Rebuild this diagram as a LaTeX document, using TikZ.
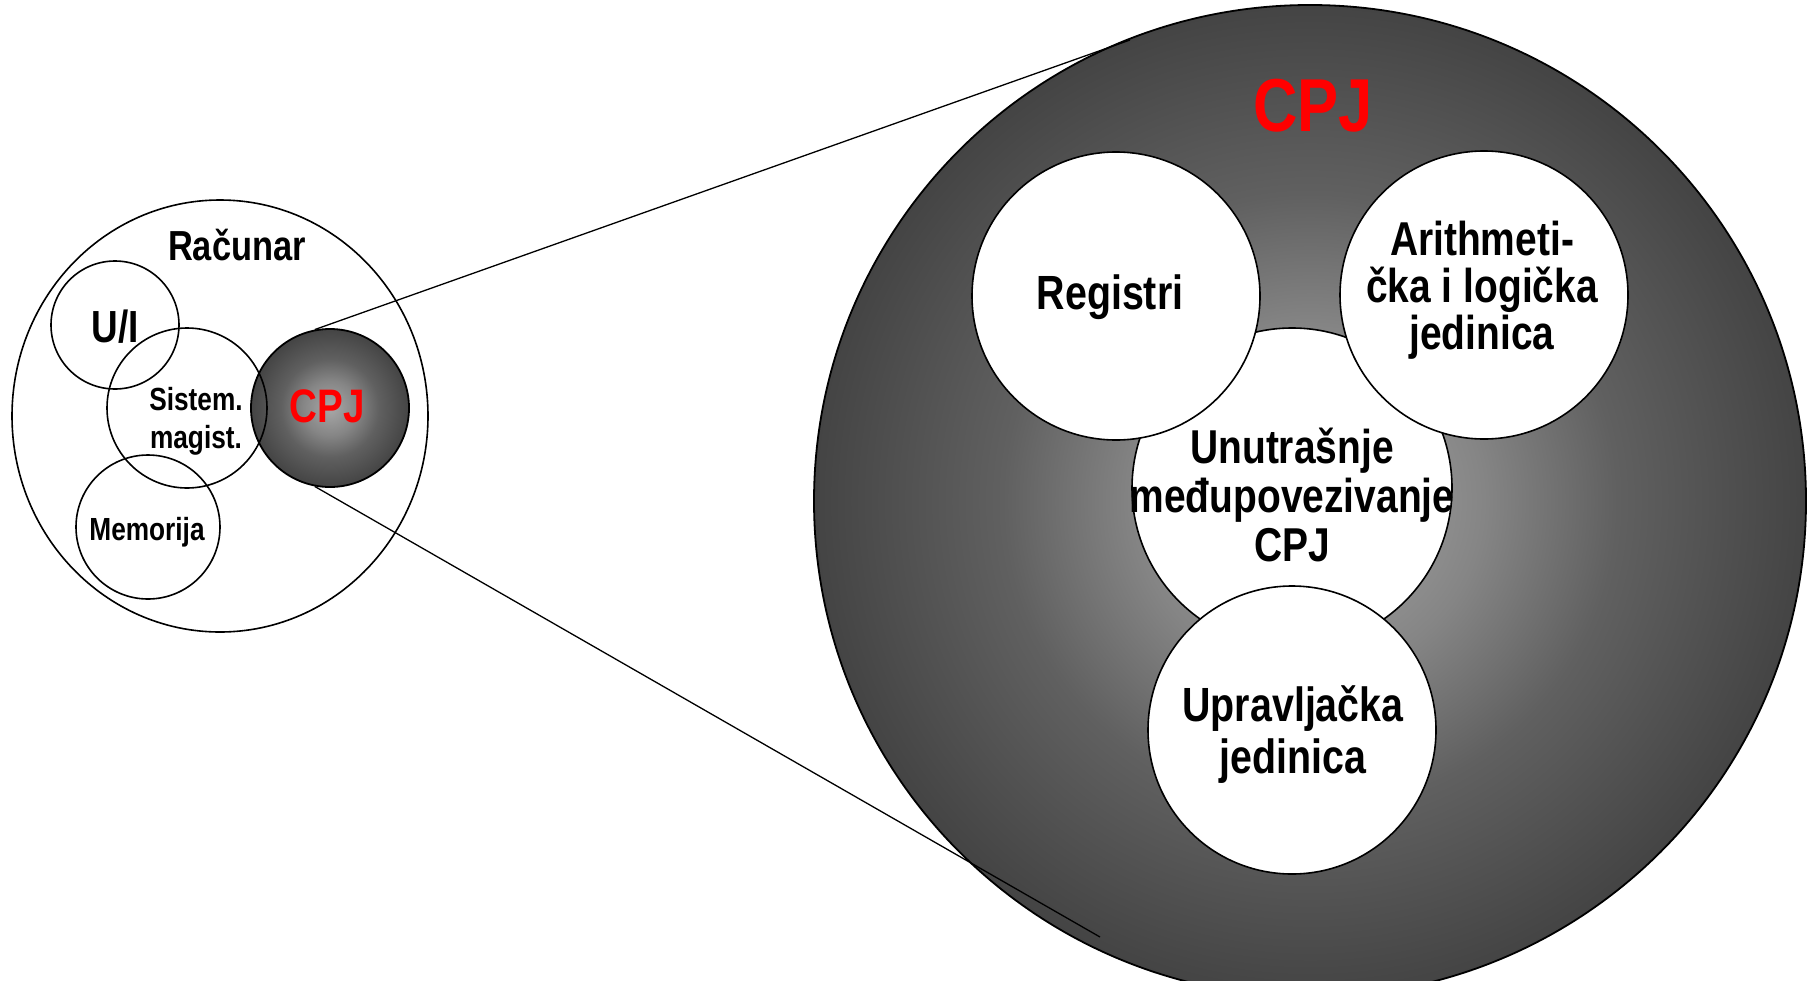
\documentclass[tikz,border=0pt]{standalone}
\usepackage{fontspec}
\setmainfont{Liberation Sans}[FakeStretch=0.82]
\usetikzlibrary{shapes.geometric}

% grey glow used for both processor discs (25bp = rim of the disc)
\definecolor{glowA}{RGB}{168,168,168}
\definecolor{glowB}{RGB}{133,133,133}
\definecolor{glowC}{RGB}{96,96,96}
\definecolor{glowD}{RGB}{68,68,68}
\pgfdeclareradialshading{cpjglow}{\pgfpoint{0bp}{0bp}}{%
  color(0bp)=(glowA); color(8.75bp)=(glowB); color(15.5bp)=(glowC);
  color(25bp)=(glowD); color(50bp)=(glowD)}
\definecolor{cpjred}{RGB}{255,0,0}

\tikzset{
  ring/.style={circle, draw=black, line width=1.6pt, inner sep=0pt, minimum size=#1},
  disc/.style={ring=#1, fill=white},
  cpjball/.style={circle, draw=black, line width=1.8pt, inner sep=0pt,
    minimum size=#1, shade, shading=cpjglow},
  lbl/.style 2 args={font=\bfseries\fontsize{#1}{#2}\selectfont, align=center, inner sep=0pt},
  link/.style={draw=black, line width=1.3pt},
}

\begin{document}
\begin{tikzpicture}[x=1pt, y=-1pt]
  \useasboundingbox (0,0) rectangle (1814,980);

  % ---- the computer ----
  \node[ellipse, draw=black, line width=1.6pt, inner sep=0pt,
        minimum width=416pt, minimum height=432pt] (racunar) at (220,416) {};
  \node[cpjball=158pt] (cpjsmall) at (330,408) {};
  \node[ring=128pt] (ui) at (115,325) {};
  \node[ring=160pt] (sistem) at (187,408) {};
  \node[ring=144pt] (memorija) at (148,527) {};

  \node[lbl={42}{42}] (racunartxt) at (237,245) {Računar};
  \node[lbl={45}{45}] (uitxt) at (115,327) {U/I};
  \node[lbl={32}{38}] (sistemtxt) at (196,421) {Sistem.\\magist.};
  \node[lbl={47}{47}, text=cpjred] (cpjsmalltxt) at (327,406) {CPJ};
  \node[lbl={32}{32}] (memorijatxt) at (147,532) {Memorija};

  % ---- the processor, enlarged ----
  \node[cpjball=992pt] (cpjbig) at (1310,501) {};
  \node[disc=320pt] (interconnect) at (1292,488) {};
  \node[disc=288pt] (registri) at (1116,296) {};
  \node[disc=288pt] (alu) at (1484,295) {};
  \node[disc=288pt] (control) at (1292,730) {};

  \node[lbl={75}{75}, text=cpjred] (cpjbigtxt) at (1313,106) {CPJ};
  \node[lbl={48}{48}] (registritxt) at (1110,297) {Registri};
  \node[lbl={47.5}{47}] (alutxt) at (1482,290) {Arithmeti-\\čka i logička\\jedinica};
  \node[lbl={47.5}{49}] (interconnecttxt) at (1292,495) {Unutrašnje\\međupovezivanje\\CPJ};
  \node[lbl={48}{52}] (controltxt) at (1293,735) {Upravljačka\\jedinica};

  % ---- magnification lines ----
  \coordinate (zoomtop) at (1130,40);
  \coordinate (zoombot) at (1100,937);
  \draw[link] (cpjsmall.101) -- (zoomtop);
  \draw[link] (cpjsmall.-101) -- (zoombot);
\end{tikzpicture}
\end{document}
